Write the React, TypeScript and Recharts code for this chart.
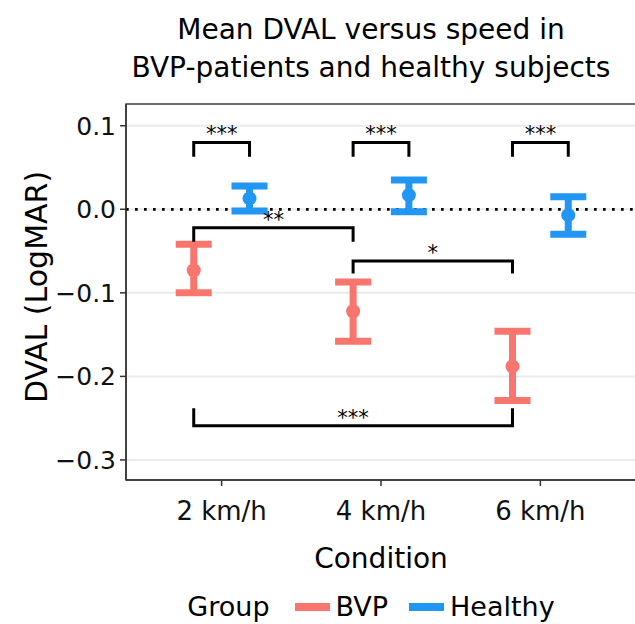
import React from 'react';
import {
  ComposedChart,
  Scatter,
  ErrorBar,
  XAxis,
  YAxis,
  CartesianGrid,
  ReferenceLine,
  ReferenceDot,
  ReferenceArea,
  Label,
} from 'recharts';

const FONT = '"DejaVu Sans", Verdana, sans-serif';

const conditions = ['2 km/h', '4 km/h', '6 km/h'];
const groups = ['BVP', 'Healthy'];
const groupColors = ['#F8766D', '#2196F3'];

const bvpMean = [-0.073, -0.122, -0.188];
const bvpLower = [-0.1, -0.158, -0.229];
const bvpUpper = [-0.042, -0.087, -0.146];

const healthyMean = [0.013, 0.017, -0.007];
const healthyLower = [-0.002, -0.003, -0.03];
const healthyUpper = [0.028, 0.035, 0.015];

const yTicks = [-0.3, -0.2, -0.1, 0, 0.1];
const Y_DOMAIN: [number, number] = [-0.324, 0.126];
const X_DOMAIN: [number, number] = [0.4, 3.6];
const DODGE = 0.35;

// significance brackets, ends given as [condition, group]
const brackets = [
  { from: ['2 km/h', 'BVP'], to: ['2 km/h', 'Healthy'], bar: 0.08, tip: 0.063, label: '***' },
  { from: ['4 km/h', 'BVP'], to: ['4 km/h', 'Healthy'], bar: 0.08, tip: 0.063, label: '***' },
  { from: ['6 km/h', 'BVP'], to: ['6 km/h', 'Healthy'], bar: 0.08, tip: 0.063, label: '***' },
  { from: ['2 km/h', 'BVP'], to: ['4 km/h', 'BVP'], bar: -0.022, tip: -0.039, label: '**' },
  { from: ['4 km/h', 'BVP'], to: ['6 km/h', 'BVP'], bar: -0.062, tip: -0.077, label: '*' },
  { from: ['2 km/h', 'BVP'], to: ['6 km/h', 'BVP'], bar: -0.259, tip: -0.238, label: '***' },
];

const xPos = (cond: string, group: string) =>
  conditions.indexOf(cond) + 1 + (groups.indexOf(group) - 0.5) * DODGE;

const makeSeries = (g: number, mean: number[], lower: number[], upper: number[]) =>
  conditions.map((c, i) => ({
    x: xPos(c, groups[g]),
    y: mean[i],
    err: [mean[i] - lower[i], upper[i] - mean[i]],
  }));

const series = [
  makeSeries(0, bvpMean, bvpLower, bvpUpper),
  makeSeries(1, healthyMean, healthyLower, healthyUpper),
];

const bracketPaths = brackets.map((b) => {
  const x1 = xPos(b.from[0], b.from[1]);
  const x2 = xPos(b.to[0], b.to[1]);
  return {
    label: b.label,
    mid: (x1 + x2) / 2,
    bar: b.bar,
    points: [
      { x: x1, y: b.tip },
      { x: x1, y: b.bar },
      { x: x2, y: b.bar },
      { x: x2, y: b.tip },
    ],
  };
});

const fmt = (v: number) => (v < 0 ? '\u2212' + Math.abs(v).toFixed(1) : v.toFixed(1));

export default function App() {
  return (
    <div style={{ position: 'relative', width: 635, height: 624, overflow: 'hidden', background: '#fff', fontFamily: FONT }}>
      <style>{'body{margin:0}'}</style>
      <div
        style={{
          position: 'absolute',
          left: 0,
          top: 11,
          width: 742,
          textAlign: 'center',
          fontSize: 28,
          lineHeight: '38px',
          color: '#000',
        }}
      >
        Mean DVAL versus speed in
        <br />
        BVP-patients and healthy subjects
      </div>

      <div style={{ position: 'absolute', left: 0, top: 0 }}>
        <ComposedChart width={636} height={624} margin={{ top: 104, right: 0, bottom: 44, left: 0 }}>
          <CartesianGrid vertical={false} stroke="#ebebeb" strokeWidth={2} />
          <XAxis
            type="number"
            dataKey="x"
            domain={X_DOMAIN}
            ticks={[1, 2, 3]}
            interval={0}
            allowDataOverflow
            tickFormatter={(v: number) => conditions[Math.round(v) - 1]}
            height={100}
            tickSize={6}
            tickMargin={16}
            axisLine={{ stroke: '#333', strokeWidth: 1.5 }}
            tickLine={{ stroke: '#333', strokeWidth: 1.5 }}
            tick={{ fontSize: 26, fill: '#111', fontFamily: FONT }}
          >
            <Label
              content={(p: any) => {
                const vb = p.viewBox;
                return (
                  <text x={vb.x + vb.width / 2} y={vb.y + 88} textAnchor="middle" fontSize={28} fontFamily={FONT} fill="#000">
                    Condition
                  </text>
                );
              }}
            />
          </XAxis>
          <YAxis
            type="number"
            dataKey="y"
            domain={Y_DOMAIN}
            ticks={yTicks}
            interval={0}
            allowDataOverflow
            tickFormatter={fmt}
            width={126}
            tickSize={6}
            tickMargin={4}
            axisLine={{ stroke: '#333', strokeWidth: 1.5 }}
            tickLine={{ stroke: '#333', strokeWidth: 1.5 }}
            tick={{ fontSize: 25, fill: '#111', fontFamily: FONT }}
          >
            <Label
              content={(p: any) => {
                const vb = p.viewBox;
                const cx = 47;
                const cy = vb.y + vb.height / 2 - 5;
                return (
                  <text
                    x={cx}
                    y={cy}
                    transform={`rotate(-90 ${cx} ${cy})`}
                    textAnchor="middle"
                    fontSize={30}
                    fontFamily={FONT}
                    fill="#000"
                  >
                    DVAL (LogMAR)
                  </text>
                );
              }}
            />
          </YAxis>

          <ReferenceLine y={0} stroke="#000" strokeWidth={2.7} strokeDasharray="2.7 6.3" />

          {bracketPaths.map((b, i) => (
            <Scatter
              key={'br' + i}
              data={b.points}
              line={{ stroke: '#000', strokeWidth: 3 }}
              lineType="joint"
              shape={() => <g />}
              legendType="none"
              isAnimationActive={false}
            />
          ))}

          {series.map((data, g) => (
            <Scatter
              key={groups[g]}
              name={groups[g]}
              data={data}
              fill={groupColors[g]}
              isAnimationActive={false}
              shape={(p: any) => <circle cx={p.cx} cy={p.cy} r={7} fill={groupColors[g]} />}
            >
              <ErrorBar dataKey="err" direction="y" width={18} strokeWidth={7} stroke={groupColors[g]} />
            </Scatter>
          ))}

          {bracketPaths.map((b, i) => (
            <ReferenceDot
              key={'lb' + i}
              x={b.mid}
              y={b.bar}
              r={0}
              ifOverflow="visible"
              shape={(p: any) => (
                <text x={p.cx} y={p.cy - 1} textAnchor="middle" fontSize={21} fontFamily={FONT} fill="#000">
                  {b.label}
                </text>
              )}
            />
          ))}

          <ReferenceArea
            x1={X_DOMAIN[0]}
            x2={X_DOMAIN[1]}
            y1={Y_DOMAIN[0]}
            y2={Y_DOMAIN[1]}
            fill="none"
            stroke="#444"
            strokeWidth={1.5}
            ifOverflow="visible"
          />
        </ComposedChart>
      </div>

      <div
        style={{
          position: 'absolute',
          left: 0,
          top: 593,
          width: 742,
          display: 'flex',
          justifyContent: 'center',
          alignItems: 'center',
          fontSize: 27,
          lineHeight: '27px',
          color: '#000',
        }}
      >
        <span style={{ marginRight: 25 }}>Group</span>
        {groups.map((g, i) => (
          <React.Fragment key={g}>
            <span style={{ display: 'inline-block', width: 35, height: 8, background: groupColors[i], marginRight: 6 }} />
            <span style={{ marginRight: i === 0 ? 21 : 0 }}>{g}</span>
          </React.Fragment>
        ))}
      </div>
    </div>
  );
}
